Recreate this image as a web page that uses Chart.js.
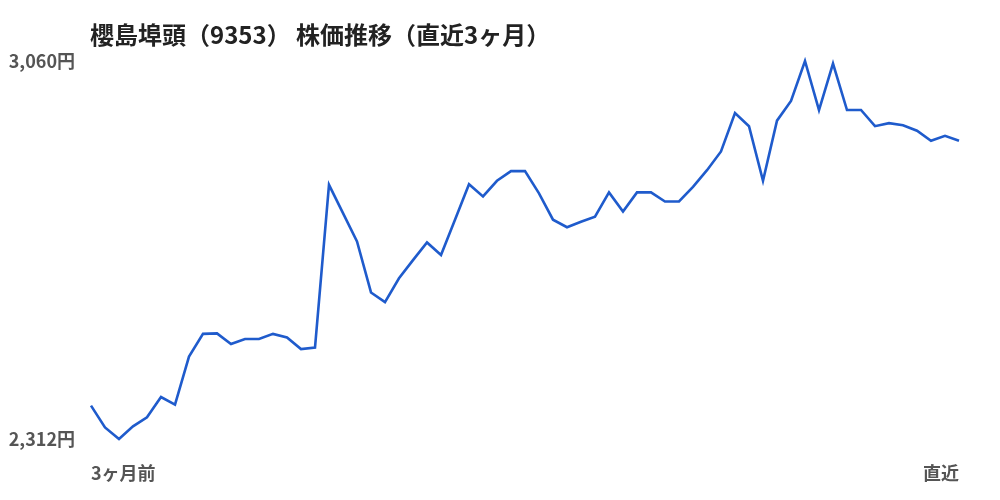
<!DOCTYPE html>
<html>
<head>
<meta charset="utf-8">
<script src="https://cdn.jsdelivr.net/npm/chart.js@4"></script>
<style>
  html, body { margin: 0; padding: 0; background: #fff; }
  #wrap { width: 1000px; height: 500px; position: relative; }
</style>
</head>
<body>
<div id="wrap"><canvas id="graphic"></canvas></div>
<script>
  // 終値（直近3ヶ月、営業日ごと）
  const days = [];
  const prices = [
    2378, 2335, 2312, 2337, 2355, 2395, 2380, 2475, 2520, 2521,
    2500, 2510, 2510, 2520, 2513, 2490, 2493, 2815, 2759, 2703,
    2602, 2583, 2630, 2666, 2701, 2676, 2746, 2816, 2792, 2823,
    2842, 2842, 2798, 2746, 2731, 2742, 2752, 2800, 2762, 2800,
    2800, 2782, 2782, 2811, 2844, 2881, 2957, 2931, 2823, 2942,
    2981, 3060, 2963, 3055, 2963, 2963, 2931, 2937, 2933, 2922,
    2902, 2912, 2902
  ];
  const xTickLabels = ["3ヶ月前", "直近"];
  const yTicks = [2312, 3060];
  const title = "櫻島埠頭（9353） 株価推移（直近3ヶ月）";

  for (let i = 0; i < prices.length; i++) {
    days.push(i);
  }

  const fontFamily = "'Noto Sans CJK JP', 'Noto Sans', sans-serif";

  // タイトルをチャートエリアの左端に合わせて描く
  const titlePlugin = {
    id: "leftTitle",
    afterDraw(chart) {
      const c = chart.ctx;
      c.save();
      c.font = "bold 24px " + fontFamily;
      c.fillStyle = "#222";
      c.textBaseline = "middle";
      c.textAlign = "left";
      c.fillText(title, chart.chartArea.left - 1, 35);
      c.restore();
    },
  };

  var ctx = document.getElementById("graphic").getContext("2d");
  var chart = new Chart(ctx, {
    type: "line",
    data: {
      labels: days,
      datasets: [
        {
          label: "株価",
          borderColor: "#1f5bcc",
          borderWidth: 2.6,
          pointRadius: 0,
          tension: 0,
          clip: false,
          data: prices,
        },
      ],
    },
    options: {
      responsive: true,
      maintainAspectRatio: false,
      animation: false,
      layout: { padding: { top: 61, right: 41, bottom: 0, left: 0 } },
      plugins: { legend: { display: false }, tooltip: { enabled: false } },
      scales: {
        x: {
          grid: { display: false, drawTicks: false },
          border: { display: false },
          offset: false,
          afterFit: function (scale) { scale.height = 61; },
          ticks: {
            autoSkip: false,
            maxRotation: 0,
            align: "inner",
            padding: 23,
            color: "#555",
            font: { family: fontFamily, size: 18, weight: "bold" },
            callback: function (value, index, ticks) {
              if (index === 0) return xTickLabels[0];
              if (index === ticks.length - 1) return xTickLabels[1];
              return "";
            },
          },
        },
        y: {
          min: yTicks[0],
          max: yTicks[1],
          grid: { display: false, drawTicks: false },
          border: { display: false },
          afterFit: function (scale) { scale.width = 91; },
          afterBuildTicks: function (scale) {
            scale.ticks = yTicks.map(function (v) { return { value: v }; });
          },
          ticks: {
            padding: 16,
            color: "#555",
            font: { family: fontFamily, size: 18, weight: "bold" },
            callback: function (value) {
              return value.toLocaleString("ja-JP") + "円";
            },
          },
        },
      },
    },
    plugins: [titlePlugin],
  });
</script>
</body>
</html>
